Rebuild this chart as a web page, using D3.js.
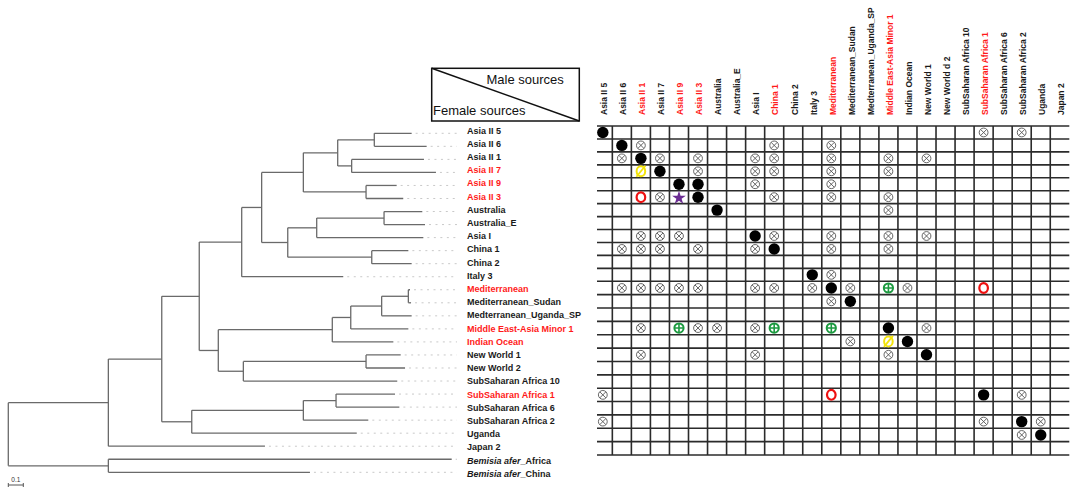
<!DOCTYPE html>
<html><head><meta charset="utf-8">
<script src="https://cdn.jsdelivr.net/npm/d3@7"></script>
<style>body{margin:0;background:#fff}svg{display:block}</style>
</head><body>
<svg id="c" width="1080" height="499"></svg>
<script>
// ---------------- DATA ----------------
// phylogenetic tree: node ids, parent ids, cumulative depth (substitutions/site)
const treeIds = ["root","P","J","H","G","R","ABC","AB","A","Asia II 5","Asia II 6","B","Asia II 1","Asia II 7","C","Asia II 9","Asia II 3","EF","E","D","Australia","Australia_E","Asia I","F","China 1","China 2","Italy 3","I","S","T","U","V","Mediterranean","Mediterranean_Sudan","Medterranean_Uganda_SP","Middle East-Asia Minor 1","Indian Ocean","L","NW","New World 1","New World 2","SubSaharan Africa 10","M","N","O","SubSaharan Africa 1","SubSaharan Africa 6","SubSaharan Africa 2","Uganda","Japan 2","Q","Bemisia afer_Africa","Bemisia afer_China"];
const treeParents = [null,"root","P","J","H","G","R","ABC","AB","A","A","AB","B","B","ABC","C","C","R","EF","E","D","D","E","EF","F","F","G","H","I","S","T","U","V","V","U","T","S","I","L","NW","NW","L","J","M","N","O","O","N","M","P","root","Q","Q"];
const treeDepths = [0,0.667,1.023,1.273,1.556,1.689,1.967,2.196,2.44,2.689,2.789,2.289,2.771,2.851,2.385,2.589,2.633,1.863,2.056,2.505,2.76,2.778,2.767,2.423,2.667,2.689,2.233,1.4,2.16,2.283,2.489,2.667,2.678,2.685,2.689,2.667,2.567,1.567,2.385,2.616,2.645,2.593,1.223,1.967,2.185,2.578,2.607,2.4,2.323,1.711,0.667,2.956,2.011];
const redRows = ["Asia II 7","Asia II 9","Asia II 3","Mediterranean","Middle East-Asia Minor 1","Indian Ocean","SubSaharan Africa 1"];

// matrix columns (male sources)
const colNames = ["Asia II 5","Asia II 6","Asia II 1","Asia II 7","Asia II 9","Asia II 3","Australia","Australia_E","Asia I","China 1","China 2","Italy 3","Mediterranean","Mediterranean_Sudan","Medterranean_Uganda_SP","Middle East-Asia Minor 1","Indian Ocean","New World 1","New World d 2","SubSaharan Africa 10","SubSaharan Africa 1","SubSaharan Africa 6","SubSaharan Africa 2","Uganda","Japan 2"];
const redCols = ["Asia II 1","Asia II 9","Asia II 3","China 1","Mediterranean","Middle East-Asia Minor 1","SubSaharan Africa 1"];

// cells: [female row index, male column index, outcome symbol]
// F = filled circle, X = circled cross, P = green circled plus, O = red ring, S = yellow slashed ring, T = purple star
const cells = [
 [0,0,"F"],[0,20,"X"],[0,22,"X"],
 [1,1,"F"],[1,2,"X"],[1,9,"X"],[1,12,"X"],
 [2,1,"X"],[2,2,"F"],[2,3,"X"],[2,5,"X"],[2,8,"X"],[2,9,"X"],[2,12,"X"],[2,15,"X"],[2,17,"X"],
 [3,2,"S"],[3,3,"F"],[3,5,"X"],[3,8,"X"],[3,9,"X"],[3,12,"X"],[3,15,"X"],
 [4,4,"F"],[4,5,"F"],[4,8,"X"],[4,12,"X"],
 [5,2,"O"],[5,3,"X"],[5,4,"T"],[5,5,"F"],[5,9,"X"],[5,12,"X"],[5,15,"X"],
 [6,6,"F"],[6,15,"X"],
 [8,2,"X"],[8,3,"X"],[8,4,"X"],[8,8,"F"],[8,9,"X"],[8,12,"X"],[8,15,"X"],[8,17,"X"],
 [9,1,"X"],[9,2,"X"],[9,3,"X"],[9,5,"X"],[9,8,"X"],[9,9,"F"],[9,12,"X"],[9,15,"X"],
 [11,11,"F"],[11,12,"X"],
 [12,1,"X"],[12,2,"X"],[12,3,"X"],[12,4,"X"],[12,5,"X"],[12,8,"X"],[12,9,"X"],[12,11,"X"],[12,12,"F"],[12,13,"X"],[12,15,"P"],[12,16,"X"],[12,20,"O"],
 [13,12,"X"],[13,13,"F"],
 [15,2,"X"],[15,4,"P"],[15,5,"X"],[15,6,"X"],[15,8,"X"],[15,9,"P"],[15,12,"P"],[15,15,"F"],[15,17,"X"],
 [16,13,"X"],[16,15,"S"],[16,16,"F"],
 [17,2,"X"],[17,8,"X"],[17,15,"X"],[17,17,"F"],
 [20,0,"X"],[20,12,"O"],[20,20,"F"],[20,22,"X"],
 [22,0,"X"],[22,20,"X"],[22,22,"F"],[22,23,"X"],
 [23,22,"X"],[23,23,"F"]
];
const nMatrixRows = 25;
const scaleBarValue = 0.1;

// ---------------- DRAW ----------------
const FONT = "'Liberation Sans', Arial, Helvetica, sans-serif";
const svg = d3.select("#c").style("font-family", FONT);

// tree
const root = d3.stratify().id(i => treeIds[i]).parentId(i => treeParents[i])(d3.range(treeIds.length));
const leaves = root.leaves();
const xTree = d3.scaleLinear().domain([0, 0.1]).range([8.3, 23.3]);
const yTree = d3.scaleLinear().domain([0, leaves.length - 1]).range([133.3, 472.3]);
const yLabel = d3.scaleLinear().domain([0, leaves.length - 1]).range([133.6, 476.8]);
leaves.forEach((l, i) => { l.idx = i; l.y = yTree(i); });
root.eachAfter(n => {
  n.x = xTree(treeDepths[n.data]);
  if (n.children) n.y = (n.children[0].y + n.children[n.children.length - 1].y) / 2;
});

const gTree = svg.append("g").attr("fill", "none").attr("stroke", "#6a6a6a").attr("stroke-width", 1.3);
root.descendants().forEach(n => {
  if (n.children) {
    gTree.append("line").attr("x1", n.x).attr("x2", n.x)
      .attr("y1", n.children[0].y).attr("y2", n.children[n.children.length - 1].y);
    n.children.forEach(c => {
      gTree.append("line").attr("x1", n.x).attr("x2", c.x).attr("y1", c.y).attr("y2", c.y);
    });
  }
});
// leader dots
svg.append("g").selectAll("line").data(leaves).join("line")
  .attr("x1", d => d.x + 4).attr("x2", 457).attr("y1", d => d.y).attr("y2", d => d.y)
  .attr("stroke", "#c9c9c9").attr("stroke-width", 1).attr("stroke-dasharray", "2,4.5");

// leaf labels
const lab = svg.append("g").attr("font-size", 9).attr("font-weight", "bold");
leaves.forEach((l, i) => {
  const name = treeIds[l.data];
  const t = lab.append("text").attr("x", 467).attr("y", yLabel(i))
    .attr("fill", redRows.includes(name) ? "#ff1a1a" : "#1a1a1a");
  if (name.startsWith("Bemisia afer")) {
    t.append("tspan").attr("font-style", "italic").text("Bemisia afer");
    t.append("tspan").text(name.slice("Bemisia afer".length));
  } else t.text(name);
});

// scale bar
const sb = svg.append("g").attr("stroke", "#555").attr("stroke-width", 1);
sb.append("line").attr("x1", xTree(0)).attr("x2", xTree(scaleBarValue)).attr("y1", 485).attr("y2", 485);
sb.append("line").attr("x1", xTree(0)).attr("x2", xTree(0)).attr("y1", 483).attr("y2", 487);
sb.append("line").attr("x1", xTree(scaleBarValue)).attr("x2", xTree(scaleBarValue)).attr("y1", 483).attr("y2", 487);
svg.append("text").attr("x", (xTree(0) + xTree(scaleBarValue)) / 2).attr("y", 482)
  .attr("text-anchor", "middle").attr("font-size", 6.5).attr("fill", "#333").text(String(scaleBarValue));

// matrix
const xCol = d3.scaleBand().domain(d3.range(colNames.length)).range([593.3, 1069.3]);
const yRow = d3.scaleLinear().domain([0, 12, nMatrixRows]).range([126, 281.3, 455]);
const gGrid = svg.append("g").attr("stroke", "#2b2b2b").attr("stroke-width", 1.6);
d3.range(nMatrixRows + 1).forEach(k => {
  gGrid.append("line").attr("x1", 597).attr("x2", xCol.range()[1]).attr("y1", yRow(k)).attr("y2", yRow(k));
});
d3.range(1, colNames.length).forEach(k => {
  const x = xCol(k);
  gGrid.append("line").attr("x1", x).attr("x2", x).attr("y1", yRow(0)).attr("y2", yRow(nMatrixRows));
});

// column headers
const hdr = svg.append("g").attr("font-size", 8.5).attr("font-weight", "bold");
colNames.forEach((c, i) => {
  const cx = xCol(i) + xCol.bandwidth() / 2;
  hdr.append("text").attr("transform", `translate(${cx + 4.3},115) rotate(-90)`)
    .attr("fill", redCols.includes(c) ? "#ff1a1a" : "#1a1a1a").text(c);
});

// markers
const star = d3.symbol().type(d3.symbolStar).size(58)();
const gM = svg.append("g");
cells.forEach(([r, c, t]) => {
  const cx = xCol(c) + xCol.bandwidth() / 2;
  const cy = (yRow(r) + yRow(r + 1)) / 2;
  const g = gM.append("g").attr("transform", `translate(${cx},${cy})`);
  if (t === "F") {
    g.append("circle").attr("r", 5.7).attr("fill", "#000");
  } else if (t === "X") {
    const r0 = 4.4, k = r0 * 0.68;
    g.append("circle").attr("r", r0).attr("fill", "#fff").attr("stroke", "#555").attr("stroke-width", 0.9);
    g.append("path").attr("d", `M${-k},${-k}L${k},${k}M${-k},${k}L${k},${-k}`).attr("stroke", "#555").attr("stroke-width", 0.9);
  } else if (t === "P") {
    g.append("circle").attr("r", 4.6).attr("fill", "#fff").attr("stroke", "#1c9a40").attr("stroke-width", 2);
    g.append("path").attr("d", "M-4.5,0L4.5,0M0,-4.5L0,4.5").attr("stroke", "#1c9a40").attr("stroke-width", 1.6);
  } else if (t === "O") {
    g.append("ellipse").attr("rx", 4.3).attr("ry", 4.9).attr("fill", "none").attr("stroke", "#ee1111").attr("stroke-width", 2.2);
  } else if (t === "S") {
    g.append("ellipse").attr("rx", 4.3).attr("ry", 5).attr("fill", "none").attr("stroke", "#f3e40a").attr("stroke-width", 2);
    g.append("path").attr("d", "M-4.5,5.5L4.5,-5.5").attr("stroke", "#f3e40a").attr("stroke-width", 1.8);
  } else if (t === "T") {
    g.append("path").attr("d", star).attr("fill", "#6b2c92").attr("transform", "translate(0,0.8)");
  }
});

// legend box
const lg = svg.append("g");
lg.append("rect").attr("x", 431.7).attr("y", 68.3).attr("width", 147.6).attr("height", 52.7)
  .attr("fill", "none").attr("stroke", "#111").attr("stroke-width", 1.5);
lg.append("line").attr("x1", 431.7).attr("y1", 68.3).attr("x2", 579.3).attr("y2", 121)
  .attr("stroke", "#111").attr("stroke-width", 1.5);
lg.append("text").attr("x", 486.5).attr("y", 83.5).attr("font-size", 13).attr("fill", "#111").text("Male sources");
lg.append("text").attr("x", 433).attr("y", 115).attr("font-size", 13).attr("fill", "#111").text("Female sources");
</script>
</body></html>
